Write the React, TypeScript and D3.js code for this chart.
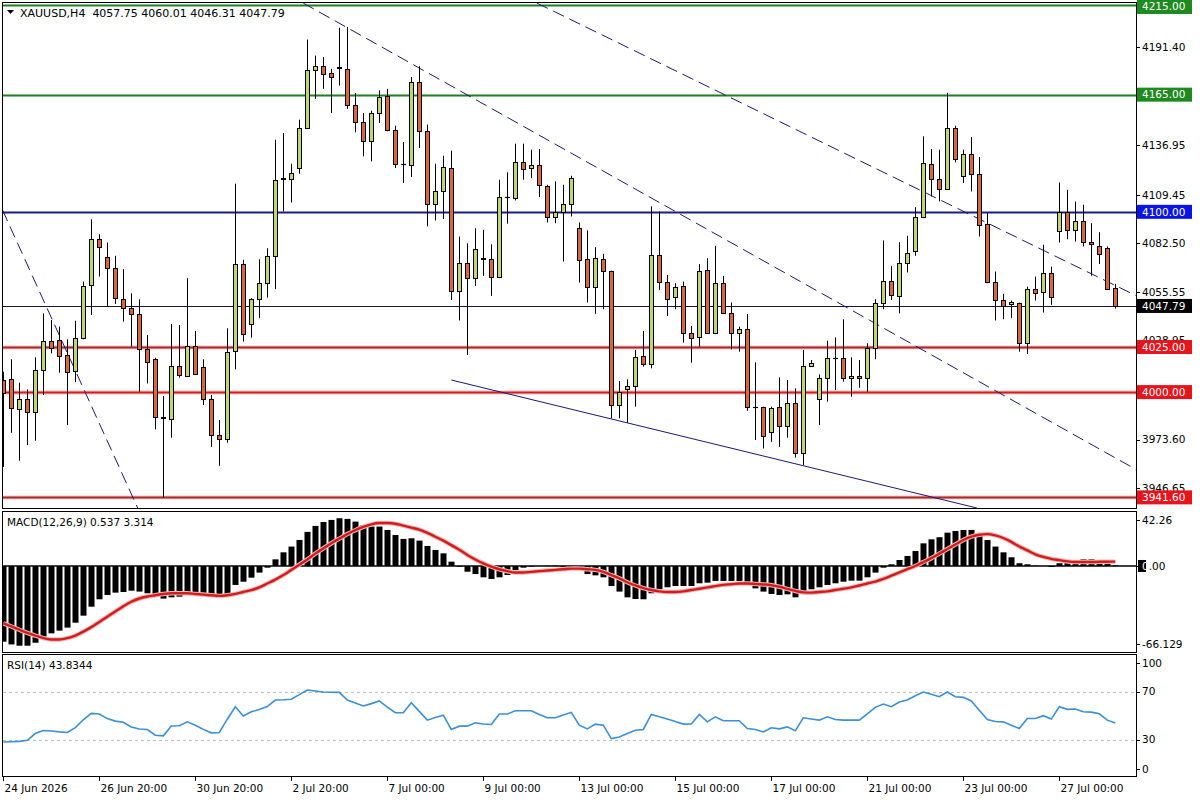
import React, { useRef, useEffect } from 'react';
import * as d3 from 'd3';

// XAUUSD H4 candles (oldest first)
const opens = [
  4006.7, 4007.1, 3990.4, 3996.0, 3988.7, 4012.2, 4028.2, 4028.9, 4020.4, 4011.7,
  4030.2, 4059.3, 4084.8, 4075.2, 4068.7, 4051.5, 4046.5, 4043.2, 4023.7, 4018.2,
  3985.6, 3984.8, 4014.7, 4009.1, 4025.8, 4013.7, 3996.0, 3976.1, 3973.7, 4022.8,
  4071.0, 4037.6, 4051.5, 4060.4, 4075.6, 4118.0, 4118.2, 4124.3, 4146.5, 4178.9,
  4180.8, 4177.1, 4180.0, 4179.3, 4159.3, 4150.0, 4139.1, 4154.8, 4164.1, 4145.2,
  4126.3, 4126.1, 4172.1, 4144.7, 4104.5, 4111.3, 4124.3, 4056.3, 4071.5, 4063.2,
  4074.3, 4073.7, 4063.7, 4108.0, 4107.6, 4127.6, 4124.3, 4126.1, 4114.5, 4097.4,
  4100.0, 4104.5, 4090.9, 4073.7, 4058.2, 4073.7, 4066.9, 3992.8, 4001.5, 4003.5,
  4020.2, 4015.4, 4075.8, 4060.8, 4052.6, 4058.9, 4033.0, 4030.8, 4067.8, 4033.0,
  4060.4, 4044.1, 4032.6, 4034.8, 3991.9, 3991.5, 3978.0, 3991.5, 3981.3, 3993.7,
  3966.0, 4014.7, 3996.0, 4008.0, 4018.7, 4018.7, 4007.6, 4009.1, 4007.6, 4024.7,
  4049.3, 4061.9, 4053.4, 4071.5, 4078.0, 4097.1, 4126.7, 4118.2, 4112.6, 4146.5,
  4120.0, 4132.2, 4121.1, 4093.4, 4061.3, 4051.1, 4048.7, 4049.3, 4027.1, 4057.1,
  4055.8, 4066.3, 4089.6, 4099.8, 4090.0, 4095.0, 4083.2, 4081.3, 4079.8, 4057.75,
];
const highs = [
  4011.3, 4018.2, 4005.2, 4001.5, 4019.3, 4043.7, 4040.0, 4036.3, 4029.3, 4039.6,
  4061.3, 4095.9, 4087.6, 4083.0, 4075.6, 4068.2, 4054.8, 4051.5, 4031.7, 4019.0,
  3997.8, 4037.8, 4037.2, 4063.2, 4033.9, 4018.2, 3998.4, 3984.5, 4035.4, 4115.6,
  4073.4, 4052.1, 4073.7, 4079.8, 4140.0, 4143.7, 4126.7, 4151.1, 4195.6, 4186.7,
  4185.9, 4179.3, 4202.1, 4202.6, 4165.9, 4154.8, 4156.1, 4167.4, 4168.2, 4147.8,
  4138.7, 4174.8, 4180.8, 4148.4, 4126.7, 4131.1, 4133.9, 4086.3, 4082.6, 4090.9,
  4090.0, 4082.0, 4117.8, 4121.9, 4137.8, 4137.8, 4134.5, 4134.8, 4115.0, 4116.9,
  4115.0, 4120.0, 4094.1, 4089.7, 4080.4, 4076.7, 4067.4, 4006.1, 4007.1, 4023.4,
  4033.9, 4103.0, 4100.2, 4065.0, 4060.4, 4061.3, 4036.7, 4071.0, 4074.3, 4081.1,
  4064.5, 4049.7, 4036.3, 4043.3, 4016.5, 3991.9, 3991.9, 4008.2, 4006.7, 4002.1,
  4023.4, 4017.8, 4009.8, 4028.5, 4030.4, 4040.4, 4019.3, 4017.8, 4027.1, 4051.5,
  4084.1, 4070.0, 4083.2, 4086.7, 4102.6, 4141.9, 4134.8, 4134.5, 4166.0, 4147.8,
  4134.5, 4141.5, 4130.4, 4099.3, 4066.9, 4054.5, 4050.8, 4049.7, 4058.5, 4064.1,
  4081.7, 4069.6, 4116.3, 4112.2, 4105.7, 4103.9, 4093.7, 4088.7, 4080.8, 4060.01,
];
const lows = [
  3958.5, 3977.4, 3961.9, 3970.6, 3973.0, 3998.4, 4021.5, 4010.8, 3981.7, 4005.6,
  4029.3, 4042.8, 4064.1, 4047.8, 4048.9, 4039.1, 4025.2, 4000.2, 4004.8, 3979.3,
  3941.5, 3974.7, 4008.0, 4008.5, 4009.5, 3992.8, 3969.6, 3959.1, 3971.9, 4012.6,
  4028.0, 4030.2, 4041.0, 4052.4, 4057.1, 4100.2, 4105.2, 4121.1, 4146.0, 4162.6,
  4168.2, 4154.8, 4170.0, 4157.1, 4144.1, 4130.8, 4128.0, 4149.3, 4144.7, 4124.3,
  4116.0, 4119.3, 4135.4, 4091.9, 4095.2, 4096.0, 4051.1, 4039.7, 4020.6, 4058.9,
  4064.5, 4053.4, 4063.2, 4093.4, 4106.3, 4117.8, 4118.7, 4108.2, 4094.1, 4093.7,
  4072.4, 4097.4, 4060.8, 4049.7, 4043.4, 4046.0, 3985.4, 3985.4, 3983.0, 3991.9,
  4014.1, 4013.2, 4056.7, 4042.2, 4046.0, 4027.4, 4016.3, 4025.2, 4032.6, 4032.1,
  4043.7, 4023.7, 4022.4, 3989.6, 3973.4, 3968.7, 3972.4, 3969.6, 3974.7, 3963.7,
  3959.5, 4014.1, 3981.7, 3994.7, 4001.1, 4005.8, 3997.4, 4002.4, 4000.2, 4018.2,
  4046.0, 4051.1, 4043.7, 4066.3, 4075.6, 4096.5, 4108.5, 4105.8, 4112.2, 4127.4,
  4116.0, 4111.3, 4086.3, 4060.4, 4039.7, 4040.4, 4041.0, 4022.4, 4021.1, 4050.8,
  4044.1, 4048.4, 4083.0, 4084.8, 4083.5, 4080.8, 4064.5, 4071.1, 4056.7, 4046.31,
];
const closes = [
  3999.3, 3991.0, 3996.0, 3988.7, 4012.2, 4028.2, 4024.7, 4020.0, 4011.0, 4030.2,
  4058.9, 4084.8, 4080.4, 4068.7, 4052.1, 4046.5, 4043.2, 4023.7, 4016.5, 3986.3,
  3986.0, 4014.7, 4009.3, 4025.8, 4010.0, 3996.0, 3976.1, 3973.7, 4022.1, 4071.0,
  4032.1, 4051.5, 4060.4, 4075.6, 4117.8, 4118.5, 4121.5, 4146.5, 4178.5, 4180.8,
  4176.7, 4174.8, 4180.2, 4159.3, 4149.7, 4139.1, 4154.8, 4163.7, 4145.2, 4126.5,
  4126.6, 4172.1, 4144.7, 4104.5, 4111.3, 4124.8, 4056.3, 4071.5, 4063.2, 4079.3,
  4074.0, 4063.7, 4108.2, 4108.2, 4127.6, 4123.7, 4126.1, 4114.7, 4097.4, 4100.0,
  4104.5, 4118.7, 4073.0, 4058.2, 4074.3, 4066.9, 3992.8, 4000.2, 4003.5, 4019.7,
  4015.4, 4075.8, 4060.8, 4051.5, 4058.2, 4033.0, 4030.2, 4067.2, 4033.0, 4060.4,
  4044.1, 4032.6, 4034.8, 3991.9, 3991.7, 3975.6, 3990.9, 3981.3, 3993.7, 3966.0,
  4014.7, 4016.0, 4008.0, 4018.7, 4018.9, 4007.6, 4009.1, 4007.6, 4024.7, 4049.3,
  4061.9, 4053.9, 4071.5, 4077.1, 4097.1, 4127.1, 4118.2, 4112.6, 4146.5, 4129.3,
  4132.2, 4121.1, 4092.8, 4061.3, 4051.1, 4048.0, 4049.7, 4027.1, 4057.1, 4055.2,
  4066.3, 4052.6, 4099.8, 4090.0, 4095.0, 4083.2, 4082.1, 4076.7, 4057.1, 4047.79,
];

// MACD(12,26,9): main line drawn as histogram, signal as the red line
const macdMain = [
  -58.2, -60.3, -61.3, -61.3, -59.0, -54.4, -51.8, -49.7, -47.4, -43.6,
  -38.2, -31.3, -25.6, -22.3, -20.5, -20.0, -19.0, -19.7, -21.0, -22.6,
  -25.1, -24.1, -23.6, -22.3, -22.3, -22.8, -23.6, -24.4, -22.3, -14.6,
  -12.1, -9.0, -5.1, -1.3, 5.1, 10.5, 14.9, 20.0, 26.2, 30.8,
  33.8, 35.4, 36.7, 36.2, 34.1, 31.5, 30.3, 30.3, 27.7, 23.8,
  20.8, 21.3, 19.5, 15.4, 12.3, 9.7, 3.3, -0.5, -4.4, -6.2,
  -8.7, -10.0, -8.7, -6.9, -3.1, -1.3, -0.5, 0.0, 0.2, 0.3,
  -0.5, -1.0, -2.6, -6.2, -7.2, -8.7, -15.4, -19.7, -24.1, -25.4,
  -25.6, -21.0, -17.9, -16.4, -15.4, -15.4, -15.4, -13.3, -12.8, -11.5,
  -11.5, -11.5, -11.5, -14.6, -17.2, -19.7, -21.5, -22.3, -21.8, -24.1,
  -21.0, -17.9, -16.4, -14.6, -13.3, -12.1, -11.3, -11.3, -8.7, -5.1,
  -1.3, 1.3, 4.6, 7.7, 11.5, 17.4, 20.5, 22.1, 25.6, 26.9,
  27.7, 27.7, 24.4, 20.0, 14.9, 10.5, 6.7, 2.1, 1.3, 0.3,
  0.0, -0.8, 2.1, 2.6, 4.6, 5.1, 5.1, 4.4, 3.3, 0.537,
];
const macdSignal = [
  -44, -46.5, -49, -51.5, -53.5, -55.5, -56.5, -56.5, -55.5, -53.5,
  -50.5, -47, -43, -39, -35, -31, -27.5, -25, -23.5, -22.5,
  -21.5, -21, -21, -21, -21.5, -22, -22.5, -23, -22.5, -21.5,
  -20, -18.5, -16.5, -13.5, -10.5, -7, -3, 1, 5, 9.5,
  13.5, 17.5, 21, 24.5, 27.5, 30, 32, 33, 33, 32.5,
  31, 29.5, 28, 25.5, 22.5, 19.5, 16, 12.5, 8.5, 5,
  2, -0.5, -2.5, -4, -5, -5, -4.5, -4, -3.5, -3,
  -2.5, -2, -2, -2.5, -3, -4.5, -7, -9.5, -12.5, -15,
  -17, -18.5, -19.5, -20, -20, -19.5, -18.5, -17.5, -16.5, -15.5,
  -14.5, -14, -13.5, -13.5, -13.8, -14.2, -14.8, -16, -17.6, -19.2,
  -20.3, -20.5, -20, -19.5, -18.5, -17.5, -16.5, -15, -13.5, -12,
  -10, -7.5, -5, -2.5, 0, 3, 6, 9.5, 13, 16.5,
  20, 22.5, 24, 24.5, 23.5, 21.5, 18.5, 15, 12, 9,
  7, 5.5, 4.5, 3.5, 3, 3, 3, 3.2, 3.3, 3.314,
];

// RSI(14)
const rsiValues = [
  28.0, 28.2, 28.5, 29.4, 35, 37.5, 37.2, 36.4, 35.9, 40,
  46.5, 51.8, 51.3, 47.5, 45.4, 44.5, 40.5, 38.8, 38.4, 33.6,
  33.1, 41.3, 41.5, 44.8, 42, 38.5, 35.6, 35.9, 47, 57.4,
  49.6, 53.2, 55, 57.5, 63, 63.2, 63.6, 67.5, 71.4, 70.5,
  69.7, 69.5, 69.4, 63, 60.5, 58, 60, 62.2, 57, 52.4,
  52.4, 60.8, 53.5, 46.2, 48.5, 50.4, 38.4, 41.2, 41.2, 44,
  43, 42.6, 51.3, 51.3, 54.1, 54.1, 54.1, 51, 48.2, 48.2,
  50.5, 52.7, 42, 38.9, 42.9, 42, 30.8, 32.2, 35, 37.8,
  38.4, 51, 49, 47.2, 45, 42.9, 43, 51, 44.8, 49,
  45.7, 45.7, 45.7, 39.2, 38.4, 36.4, 39.8, 38.9, 40.6, 37.3,
  48.2, 47.2, 46.2, 49, 46.8, 46.2, 46.2, 46.2, 51.5, 56.9,
  59.6, 57.4, 61.3, 63, 66.5, 69.7, 67.8, 65.8, 69.7, 65.8,
  65.2, 62.2, 54.5, 46.8, 45.1, 44.8, 42, 39.2, 47.6, 47.6,
  49.9, 47.1, 57.4, 55.2, 55.5, 53.2, 52.9, 51.5, 46.2, 43.8344,
];

// time axis: bar index of each label
const timeTickBars = [0, 12, 24, 36, 48, 60, 72, 84, 96, 108, 120, 132];
const timeTickLabels = [
  '24 Jun 2026', '26 Jun 20:00', '30 Jun 20:00', '2 Jul 20:00', '7 Jul 00:00', '9 Jul 00:00',
  '13 Jul 00:00', '15 Jul 00:00', '17 Jul 00:00', '21 Jul 00:00', '23 Jul 00:00', '27 Jul 00:00',
];

// price axis grid values as the terminal prints them
const priceTicks = [4191.4, 4136.95, 4109.45, 4082.5, 4055.55, 4028.95, 3973.6, 3946.65];
const macdTicks = [42.26, -66.129];
const macdTickLabels = ['42.26', '-66.129'];
const rsiTicks = [100, 70, 30, 0];
const rsiLevels = [70, 30];

// horizontal levels drawn on the chart
const levelPrices = [4215, 4165, 4100, 4025, 4000, 3941.6];
const levelKinds = ['res', 'res', 'pivot', 'sup2', 'sup', 'sup2'];

// trend lines: [barIndex, price] start and end
const trendStarts = [[37.5, 4215.8], [66.7, 4215.8], [-0.1, 4101.0], [56.0, 4006.7]];
const trendEnds = [[141.7, 3956.8], [141.7, 4053.3], [16.8, 3935.7], [121.7, 3935.7]];
const trendDashed = [true, true, true, false];

export default function App() {
  const svgRef = useRef<SVGSVGElement>(null);

  useEffect(() => {
    const svg = d3.select(svgRef.current);
    svg.selectAll('*').remove();

    const font = "'DejaVu Sans', Tahoma, sans-serif";
    const n = closes.length;
    const L = 3;
    const R = 1136;
    const main = { top: 2, bottom: 508 };
    const macd = { top: 511, bottom: 652 };
    const rsi = { top: 654, bottom: 776 };

    const x = d3.scaleLinear().domain([0, n - 1]).range([3.3, 1115.3]);
    const yP = d3.scaleLinear().domain([3935.7, 4216.4]).range([main.bottom, main.top]);
    const yM = d3.scaleLinear().domain([-66.129, 42.26]).range([macd.bottom, macd.top]);
    const yR = d3.scaleLinear().domain([0, 100]).range([775.5, 655.7]);
    const idx = d3.range(n);
    const cx = (i: number) => Math.round(x(i));

    const colors: Record<string, { line: string; label: string }> = {
      res: { line: '#1f7f1f', label: '#1f8a1f' },
      pivot: { line: '#1c1c8c', label: '#0a14e6' },
      sup: { line: '#d61e1e', label: '#e8141c' },
      sup2: { line: '#a82a2a', label: '#e8141c' },
    };

    svg.append('rect').attr('width', 1200).attr('height', 800).attr('fill', '#fff');

    // clip areas for each window
    const defs = svg.append('defs');
    const panels: [string, { top: number; bottom: number }][] = [['main', main], ['macd', macd], ['rsi', rsi]];
    panels.forEach(([id, p]) => {
      defs.append('clipPath').attr('id', `clip-${id}`)
        .append('rect').attr('x', L).attr('y', p.top).attr('width', R - L).attr('height', p.bottom - p.top);
    });

    // ---------- main window ----------
    const gMain = svg.append('g').attr('clip-path', 'url(#clip-main)');

    // horizontal levels
    levelPrices.forEach((p, k) => {
      const y = Math.round(yP(p)) + 0.5;
      const kind = levelKinds[k];
      if (kind === 'sup' || kind === 'sup2') {
        gMain.append('line').attr('x1', L).attr('x2', R).attr('y1', y).attr('y2', y)
          .attr('stroke', '#f5c4c4').attr('stroke-width', 4);
      }
      gMain.append('line').attr('x1', L).attr('x2', R).attr('y1', y).attr('y2', y)
        .attr('stroke', colors[kind].line).attr('stroke-width', 2);
    });

    // current price line
    const last = closes[n - 1];
    gMain.append('line').attr('x1', L).attr('x2', R)
      .attr('y1', Math.round(yP(last)) + 0.5).attr('y2', Math.round(yP(last)) + 0.5)
      .attr('stroke', '#14143c').attr('stroke-width', 1);

    // trend lines
    trendStarts.forEach((s, k) => {
      const e = trendEnds[k];
      gMain.append('line')
        .attr('x1', x(s[0])).attr('y1', yP(s[1]))
        .attr('x2', x(e[0])).attr('y2', yP(e[1]))
        .attr('stroke', '#1a1a70').attr('stroke-width', 1)
        .attr('stroke-dasharray', trendDashed[k] ? '12,6' : null);
    });

    // candles
    gMain.selectAll('line.wick').data(idx).join('line').attr('class', 'wick')
      .attr('x1', i => cx(i) + 0.5).attr('x2', i => cx(i) + 0.5)
      .attr('y1', i => yP(highs[i])).attr('y2', i => yP(lows[i]))
      .attr('stroke', '#000').attr('stroke-width', 1);

    idx.forEach(i => {
      const o = opens[i];
      const c = closes[i];
      const yTop = Math.round(yP(Math.max(o, c))) + 0.5;
      const yBot = Math.round(yP(Math.min(o, c))) + 0.5;
      if (yBot - yTop < 1) {
        gMain.append('line').attr('x1', cx(i) - 2).attr('x2', cx(i) + 3)
          .attr('y1', yTop).attr('y2', yTop).attr('stroke', '#000').attr('stroke-width', 1.2);
      } else {
        gMain.append('rect')
          .attr('x', cx(i) - 1.5).attr('width', 4)
          .attr('y', yTop).attr('height', yBot - yTop)
          .attr('fill', c >= o ? '#c2d76a' : '#d9673a')
          .attr('stroke', '#000').attr('stroke-width', 1);
      }
    });

    // header
    const hdr = svg.append('g');
    hdr.append('path').attr('d', 'M7,10 L14,10 L10.5,14 Z').attr('fill', '#000');
    hdr.append('text').attr('x', 20).attr('y', 17)
      .attr('font-family', font).attr('font-size', 11).attr('fill', '#000')
      .style('white-space', 'pre')
      .text(`XAUUSD,H4  ${opens[n - 1].toFixed(2)} ${highs[n - 1].toFixed(2)} ${lows[n - 1].toFixed(2)} ${last.toFixed(2)}`);

    // ---------- MACD window ----------
    const gMacd = svg.append('g').attr('clip-path', 'url(#clip-macd)');
    const y0 = yM(0);
    gMacd.selectAll('rect.bar').data(idx).join('rect').attr('class', 'bar')
      .attr('x', i => cx(i) - 2.5).attr('width', 6)
      .attr('y', i => Math.min(yM(macdMain[i]), y0))
      .attr('height', i => Math.abs(yM(macdMain[i]) - y0))
      .attr('fill', '#000');
    gMacd.append('line').attr('x1', L).attr('x2', R).attr('y1', y0).attr('y2', y0)
      .attr('stroke', '#000').attr('stroke-width', 1.6);
    const sigLine = d3.line<number>().x(i => x(i)).y(i => yM(macdSignal[i])).curve(d3.curveMonotoneX);
    gMacd.append('path').attr('d', sigLine(idx)).attr('fill', 'none')
      .attr('stroke', '#f2b3b3').attr('stroke-width', 4.5);
    gMacd.append('path').attr('d', sigLine(idx)).attr('fill', 'none')
      .attr('stroke', '#d01c1c').attr('stroke-width', 2.4);
    svg.append('text').attr('x', 7).attr('y', 526)
      .attr('font-family', font).attr('font-size', 10.5).attr('fill', '#000')
      .text(`MACD(12,26,9) ${macdMain[n - 1].toFixed(3)} ${macdSignal[n - 1].toFixed(3)}`);

    // ---------- RSI window ----------
    const gRsi = svg.append('g').attr('clip-path', 'url(#clip-rsi)');
    rsiLevels.forEach(v => {
      gRsi.append('line').attr('x1', L).attr('x2', R)
        .attr('y1', Math.round(yR(v)) + 0.5).attr('y2', Math.round(yR(v)) + 0.5)
        .attr('stroke', '#bdbdbd').attr('stroke-width', 1).attr('stroke-dasharray', '3,3');
    });
    const rsiLine = d3.line<number>().x(i => x(i)).y(i => yR(rsiValues[i]));
    gRsi.append('path').attr('d', rsiLine(idx)).attr('fill', 'none')
      .attr('stroke', '#3b8fd2').attr('stroke-width', 1.6);
    svg.append('text').attr('x', 7).attr('y', 669)
      .attr('font-family', font).attr('font-size', 10.5).attr('fill', '#000')
      .text(`RSI(14) ${rsiValues[n - 1].toFixed(4)}`);

    // ---------- frames ----------
    panels.forEach(([, p]) => {
      svg.append('rect').attr('x', L - 0.5).attr('y', p.top + 0.5)
        .attr('width', R - L + 1).attr('height', p.bottom - p.top)
        .attr('fill', 'none').attr('stroke', '#000').attr('stroke-width', 1);
    });

    // ---------- right axes ----------
    const tickMark = (y: number) => {
      svg.append('line').attr('x1', R).attr('x2', R + 4).attr('y1', Math.round(y) + 0.5).attr('y2', Math.round(y) + 0.5)
        .attr('stroke', '#000');
    };
    const axisText = (y: number, t: string) => {
      tickMark(y);
      svg.append('text').attr('x', R + 6).attr('y', y).attr('dy', '0.36em')
        .attr('font-family', font).attr('font-size', 10.5).attr('fill', '#000').text(t);
    };
    priceTicks.forEach(p => axisText(yP(p), p.toFixed(2)));
    macdTicks.forEach((v, k) => axisText(Math.max(520, Math.min(644, yM(v))), macdTickLabels[k]));
    rsiTicks.forEach(v => axisText(Math.max(663, Math.min(769, yR(v))), String(v)));

    // MACD zero label, first digit on the black value marker
    tickMark(y0);
    svg.append('rect').attr('x', R + 2).attr('y', y0 - 6).attr('width', 8).attr('height', 12).attr('fill', '#000');
    const zeroText = svg.append('text').attr('x', R + 6).attr('y', y0).attr('dy', '0.36em')
      .attr('font-family', font).attr('font-size', 10.5);
    zeroText.append('tspan').attr('fill', '#fff').text('0');
    zeroText.append('tspan').attr('fill', '#000').text('.00');

    // level price labels
    const priceLabel = (p: number, bg: string) => {
      const y = yP(p);
      svg.append('rect').attr('x', R + 1).attr('y', Math.max(0, y - 7)).attr('width', 55).attr('height', 14).attr('fill', bg);
      svg.append('text').attr('x', R + 6).attr('y', Math.max(6, y)).attr('dy', '0.36em')
        .attr('font-family', font).attr('font-size', 10.5).attr('fill', '#fff').text(p.toFixed(2));
    };
    levelPrices.forEach((p, k) => priceLabel(p, colors[levelKinds[k]].label));
    priceLabel(last, '#000');

    // ---------- time axis ----------
    timeTickBars.forEach((b, k) => {
      const tx = cx(b) + 0.5;
      svg.append('line').attr('x1', tx).attr('x2', tx).attr('y1', rsi.bottom + 1).attr('y2', rsi.bottom + 5)
        .attr('stroke', '#000');
      svg.append('text').attr('x', tx + 1).attr('y', 792)
        .attr('font-family', font).attr('font-size', 10.5).attr('fill', '#000')
        .text(timeTickLabels[k]);
    });
  }, []);

  return (
    <div style={{ position: 'fixed', left: 0, top: 0, width: 1200, height: 800 }}>
      <svg ref={svgRef} width={1200} height={800} viewBox="0 0 1200 800"></svg>
    </div>
  );
}
